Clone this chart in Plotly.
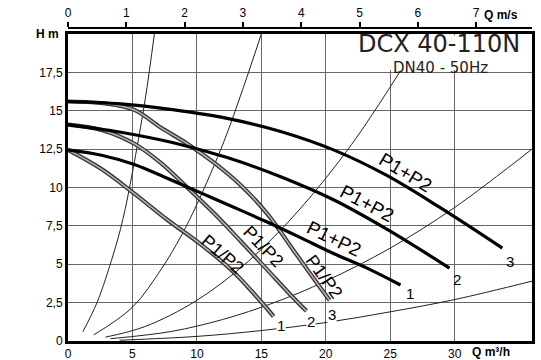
import math
import plotly.graph_objects as go

# ---- axes -------------------------------------------------------------
h_ticks = [0, 2.5, 5, 7.5, 10, 12.5, 15, 17.5]
h_tick_text = ["0", "2,5", "5", "7,5", "10", "12,5", "15", "17,5"]
q_ticks = [0, 5, 10, 15, 20, 25, 30]
v_ticks = [0, 1, 2, 3, 4, 5, 6, 7]
q_max = 36.0
h_max = 20.0
dn_mm = 40  # pipe bore used for the velocity scale

# ---- P1+P2 curves (speeds 1..3) ---------------------------------------
q_sum_1 = [0, 2.6, 5.15, 7.7, 10.3, 12.9, 15.45, 18.0, 20.6, 23.2, 25.8]
h_sum_1 = [12.45, 12.1, 11.5, 10.6, 9.65, 8.7, 7.75, 6.75, 5.7, 4.75, 3.65]
q_sum_2 = [0, 4.1, 8.25, 12.35, 16.5, 20.6, 24.7, 29.6]
h_sum_2 = [14.1, 13.6, 12.9, 11.95, 10.7, 9.2, 7.3, 4.75]
q_sum_3 = [0, 4.1, 8.25, 12.35, 16.5, 20.6, 24.7, 28.85, 33.7]
h_sum_3 = [15.6, 15.45, 15.05, 14.5, 13.65, 12.45, 10.8, 8.7, 6.05]

# ---- P1/P2 curves (speeds 1..3) ---------------------------------------
q_one_1 = [0, 2.6, 5.15, 7.7, 10.3, 12.9, 15.45, 15.95]
h_one_1 = [12.45, 11.2, 9.6, 7.9, 6.3, 4.45, 2.1, 1.6]
q_one_2 = [0, 2.6, 5.15, 7.2, 9.25, 11.35, 13.4, 15.45, 17.5, 18.5]
h_one_2 = [14.1, 13.75, 12.85, 11.6, 10.0, 8.3, 6.5, 4.65, 2.8, 1.95]
q_one_3 = [0, 3.1, 5.15, 7.2, 9.25, 11.35, 13.4, 15.45, 17.5, 19.55, 20.3]
h_one_3 = [15.6, 15.45, 15.05, 13.9, 12.85, 11.6, 10.15, 8.3, 5.9, 3.5, 2.65]

# ---- system curves (thin) ---------------------------------------------
q_sys_a = [1.15, 2.25, 3.5, 4.25, 5.0, 6.0, 6.7]
h_sys_a = [0.6, 2.5, 5.6, 7.9, 11.0, 15.8, 20.0]
q_sys_b = [2.0, 5.0, 7.25, 8.75, 10.0, 12.1, 13.6, 15.0]
h_sys_b = [0.4, 2.2, 4.7, 6.8, 8.9, 13.0, 16.5, 20.0]
q_sys_c = [2.9, 6, 10, 14, 18, 22, 25.8]
h_sys_c = [0.25, 0.95, 2.65, 5.2, 8.6, 12.8, 17.6]
q_sys_d = [3.3, 8, 12, 16, 20, 25, 30, 36]
h_sys_d = [0.15, 0.62, 1.4, 2.5, 3.9, 6.05, 8.7, 12.5]
q_sys_e = [4, 10, 15, 20, 25, 30, 36]
h_sys_e = [0.05, 0.3, 0.68, 1.2, 1.9, 2.7, 3.9]

FONT = "Liberation Sans, Arial, Helvetica, sans-serif"

fig = go.Figure()

for q, h in [(q_sys_a, h_sys_a), (q_sys_b, h_sys_b), (q_sys_c, h_sys_c),
             (q_sys_d, h_sys_d), (q_sys_e, h_sys_e)]:
    fig.add_trace(go.Scatter(x=q, y=h, mode="lines", line=dict(color="#222", width=1, shape="spline"),
                             hoverinfo="skip", showlegend=False))

# single-pump curves: dark outline with a grey core
for q, h in [(q_one_1, h_one_1), (q_one_2, h_one_2), (q_one_3, h_one_3)]:
    fig.add_trace(go.Scatter(x=q, y=h, mode="lines", line=dict(color="#333", width=4.2, shape="spline"),
                             hoverinfo="skip", showlegend=False))
    fig.add_trace(go.Scatter(x=q, y=h, mode="lines", line=dict(color="#b5b5b5", width=1.6, shape="spline"),
                             hoverinfo="skip", showlegend=False))

for q, h in [(q_sum_1, h_sum_1), (q_sum_2, h_sum_2), (q_sum_3, h_sum_3)]:
    fig.add_trace(go.Scatter(x=q, y=h, mode="lines", line=dict(color="black", width=3.2, shape="spline"),
                             hoverinfo="skip", showlegend=False))

# velocity scale for DN40 (m/s) on the top axis
area = math.pi * (dn_mm / 2000.0) ** 2
v_max = q_max / 3600.0 / area
fig.add_trace(go.Scatter(x=[0], y=[0], xaxis="x2", yaxis="y", mode="markers",
                         marker=dict(opacity=0), hoverinfo="skip", showlegend=False))

ann = []
def label(x, y, text, size=19, angle=0, bg=None):
    d = dict(x=x, y=y, xref="x", yref="y", text=text, showarrow=False, textangle=angle,
             font=dict(family=FONT, size=size, color="black"))
    if bg:
        d["bgcolor"] = bg
        d["borderpad"] = 0
    ann.append(d)

label(26.2, 11.0, "P1+P2", angle=31)
label(23.2, 8.95, "P1+P2", angle=28)
label(20.6, 6.65, "P1+P2", angle=26)
label(11.95, 5.65, "P1/P2", size=18, angle=41)
label(15.2, 6.15, "P1/P2", size=18, angle=46)
label(19.9, 4.2, "P1/P2", size=18, angle=54)

for x, y, t in [(16.5, 0.98, "1"), (18.85, 1.25, "2"), (20.45, 1.75, "3")]:
    label(x, y, t, size=15, bg="white")
for x, y, t in [(26.5, 3.1, "1"), (30.2, 4.0, "2"), (34.3, 5.15, "3")]:
    label(x, y, t, size=15)

ann.append(dict(x=28.8, y=19.35, xref="x", yref="y", text="DCX 40-110N", showarrow=False,
                font=dict(family="DejaVu Sans", size=24, color="#222")))
ann.append(dict(x=28.9, y=17.8, xref="x", yref="y", text="DN40 - 50Hz", showarrow=False,
                font=dict(family="DejaVu Sans", size=15, color="#222")))
ann.append(dict(x=0, y=20, xref="paper", yref="y", text="<b>H m</b>", showarrow=False,
                xanchor="right", xshift=-7, font=dict(family=FONT, size=12, color="black")))
ann.append(dict(x=31.2, y=0, xref="x", yref="y", text="<b>Q m³/h</b>", showarrow=False,
                xanchor="left", yanchor="top", yshift=-2, font=dict(family=FONT, size=12, color="black")))
ann.append(dict(x=32.1, y=1, xref="x", yref="paper", text="<b>Q m/s</b>", showarrow=False,
                xanchor="left", yanchor="bottom", yshift=4, font=dict(family=FONT, size=12, color="black")))

fig.update_layout(
    width=541, height=360,
    margin=dict(l=68, r=9, t=28, b=19),
    paper_bgcolor="white", plot_bgcolor="white",
    font=dict(family=FONT, size=12, color="black"),
    annotations=ann,
    shapes=[dict(type="rect", xref="x", yref="y", x0=20.35, x1=35.85, y0=17.65, y1=19.9,
                 fillcolor="white", line=dict(width=0), layer="above")],
    xaxis=dict(range=[0, q_max], tickvals=q_ticks, showgrid=True, gridcolor="#666", gridwidth=1,
               showline=True, linecolor="black", linewidth=3, mirror=True, ticks="",
               zeroline=False, tickfont=dict(size=12), automargin=False),
    yaxis=dict(range=[0, h_max], domain=[0, 0.981], tickvals=h_ticks, ticktext=h_tick_text,
               showgrid=True, gridcolor="#666", gridwidth=1, showline=True, linecolor="black",
               linewidth=3, mirror=True, ticks="", zeroline=False, tickfont=dict(size=12),
               automargin=False),
    xaxis2=dict(range=[0, v_max], overlaying="x", side="top", anchor="free", position=1,
                tickvals=v_ticks, showgrid=False, zeroline=False, showline=True, linecolor="black",
                linewidth=2, ticks="outside", ticklen=5, tickwidth=1.5, tickcolor="black",
                tickfont=dict(size=12), automargin=False),
)

fig.write_html("out.html")
